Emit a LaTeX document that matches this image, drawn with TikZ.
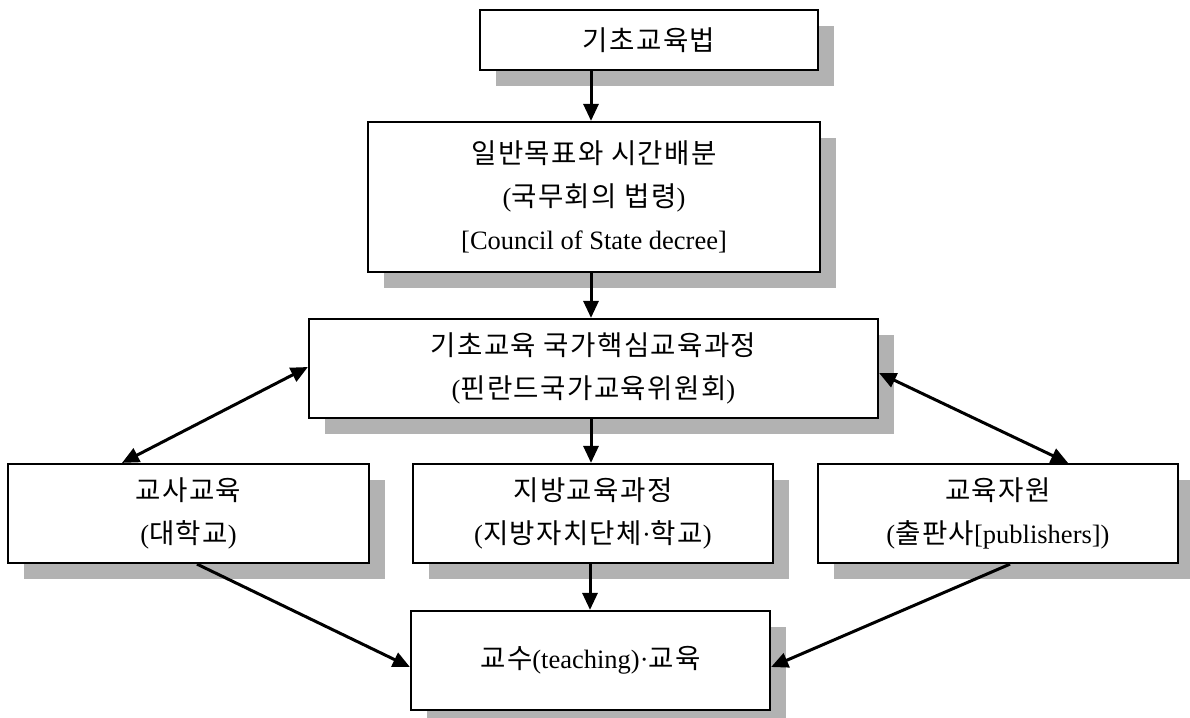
\documentclass[tikz,border=0pt]{standalone}
\usepackage{fontspec}
\setmainfont{Liberation Serif}
\newfontfamily\kofont[Scale=1.04,LetterSpace=5]{Noto Sans CJK KR}
\newcommand\ko[1]{{\kofont #1}}
\usetikzlibrary{shadows,arrows.meta}
\definecolor{shade}{HTML}{B2B2B2}
\begin{document}
\begin{tikzpicture}[x=1pt,y=-1pt,
  box/.style={draw=black, line width=2.2pt, fill=white, align=center, inner sep=0pt,
    font=\fontsize{26.5}{43}\selectfont,
    drop shadow={shadow xshift=16pt, shadow yshift=-16pt, fill=shade, opacity=1}},
  link/.style={line width=3pt, arrows={-Triangle[length=17pt,width=15pt]}},
  both/.style={line width=3pt, arrows={Triangle[length=17pt,width=15pt]-Triangle[length=17pt,width=15pt]}}]
\useasboundingbox (0,0) rectangle (1190,717);

% boxes
\node[box, minimum width=338pt, minimum height=60pt] (b1) at (649,40) {\ko{기초교육법}};
\node[box, minimum width=452pt, minimum height=150pt] (b2) at (594,197)
  {\ko{일반목표와 시간배분}\\(\ko{국무회의 법령})\\{[}Council of State decree]};
\node[box, minimum width=569pt, minimum height=99pt] (b3) at (593.5,368.5)
  {\ko{기초교육 국가핵심교육과정}\\(\ko{핀란드국가교육위원회})};
\node[box, minimum width=361pt, minimum height=99pt] (b4) at (188.5,513.5)
  {\ko{교사교육}\\(\ko{대학교})};
\node[box, minimum width=360pt, minimum height=99pt] (b5) at (593,513.5)
  {\ko{지방교육과정}\\(\ko{지방자치단체}·\ko{학교})};
\node[box, minimum width=360pt, minimum height=99pt] (b6) at (998,513.5)
  {\ko{교육자원}\\(\ko{출판사}[publishers])};
\node[box, minimum width=359pt, minimum height=99pt] (b7) at (590.5,660.5)
  {\ko{교수}(teaching)·\ko{교육}};

% connectors
\draw[link] ([xshift=-58pt]b1.south) -- ([xshift=-3pt]b2.north);
\draw[link] ([xshift=-3pt]b2.south) -- ([xshift=-2.5pt]b3.north);
\draw[link] ([xshift=-2.5pt]b3.south) -- ([xshift=-2pt]b5.north);
\draw[link] ([xshift=-3pt]b5.south) -- ([xshift=-0.5pt]b7.north);
\draw[both] ([yshift=1.5pt]b3.west) -- ([xshift=-66.5pt]b4.north);
\draw[both] ([yshift=-4.5pt]b3.east) -- ([xshift=70pt]b6.north);
\draw[link] ([xshift=8.5pt]b4.south) -- ([yshift=-6.5pt]b7.west);
\draw[link] ([xshift=12pt]b6.south) -- ([yshift=-6.5pt]b7.east);
\end{tikzpicture}
\end{document}
